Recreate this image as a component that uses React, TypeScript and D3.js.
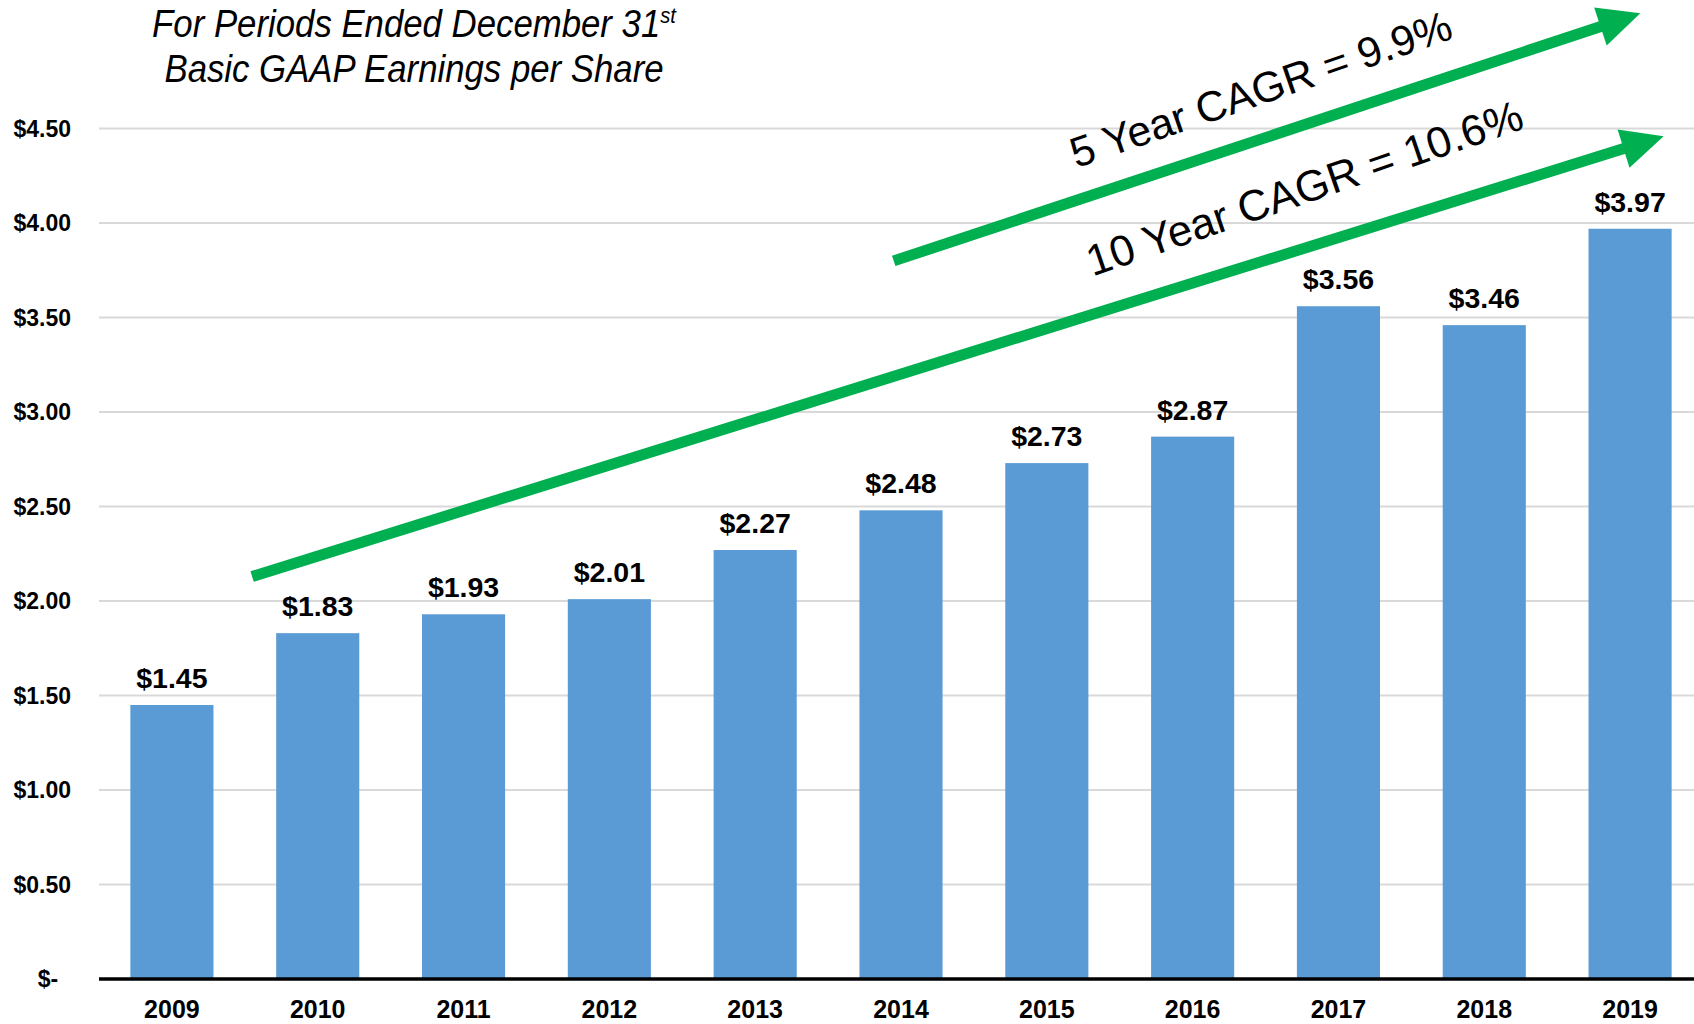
import { useEffect, useRef } from 'react'
import * as d3 from 'd3'

const years = ['2009', '2010', '2011', '2012', '2013', '2014', '2015', '2016', '2017', '2018', '2019']
const eps = [1.45, 1.83, 1.93, 2.01, 2.27, 2.48, 2.73, 2.87, 3.56, 3.46, 3.97]
const yTicks = [0, 0.5, 1, 1.5, 2, 2.5, 3, 3.5, 4, 4.5]
const titleLines = ['For Periods Ended December 31', 'Basic GAAP Earnings per Share']
const titleSup = 'st'
const cagrLabels = ['5 Year CAGR = 9.9%', '10 Year CAGR = 10.6%']

const W = 1694
const H = 1024

export default function App() {
  const ref = useRef<SVGSVGElement | null>(null)

  useEffect(() => {
    const el = ref.current
    if (!el) return
    const svg = d3.select(el)
    svg.selectAll('*').remove()

    const left = 99
    const base = 979
    const top = 128.6

    const x = d3.scaleBand().domain(years).range([left, 1703]).paddingInner(0.43).paddingOuter(0.215)
    const y = d3.scaleLinear().domain([0, 4.5]).range([base, top])
    const bw = x.bandwidth()
    // continuous index scale for annotations (bar centres)
    const xi = d3
      .scaleLinear()
      .domain([0, years.length - 1])
      .range([(x(years[0]) as number) + bw / 2, (x(years[years.length - 1]) as number) + bw / 2])

    // gridlines
    svg
      .append('g')
      .selectAll('line')
      .data(yTicks.filter((d) => d > 0))
      .join('line')
      .attr('x1', left)
      .attr('x2', W)
      .attr('y1', (d) => y(d))
      .attr('y2', (d) => y(d))
      .attr('stroke', '#d9d9d9')
      .attr('stroke-width', 2)

    // y labels
    svg
      .append('g')
      .selectAll('text')
      .data(yTicks)
      .join('text')
      .attr('x', 71)
      .attr('y', (d) => y(d))
      .attr('dy', '0.36em')
      .attr('text-anchor', 'end')
      .attr('font-family', '"Liberation Sans", Arial, sans-serif')
      .attr('font-weight', 'bold')
      .attr('font-size', 23)
      .style('white-space', 'pre')
      .text((d) => (d === 0 ? '$-  ' : `$${d.toFixed(2)}`))

    // bars
    svg
      .append('g')
      .selectAll('rect')
      .data(eps)
      .join('rect')
      .attr('x', (_, i) => x(years[i]) as number)
      .attr('y', (d) => y(d))
      .attr('width', bw)
      .attr('height', (d) => base - y(d))
      .attr('fill', '#5b9bd5')

    // value labels
    svg
      .append('g')
      .selectAll('text')
      .data(eps)
      .join('text')
      .attr('x', (_, i) => (x(years[i]) as number) + bw / 2)
      .attr('y', (d) => y(d) - 17)
      .attr('text-anchor', 'middle')
      .attr('font-family', '"Liberation Sans", Arial, sans-serif')
      .attr('font-weight', 'bold')
      .attr('font-size', 28.5)
      .text((d) => `$${d.toFixed(2)}`)

    // x axis
    svg
      .append('line')
      .attr('x1', left)
      .attr('x2', W)
      .attr('y1', base)
      .attr('y2', base)
      .attr('stroke', '#000')
      .attr('stroke-width', 3.5)

    svg
      .append('g')
      .selectAll('text')
      .data(years)
      .join('text')
      .attr('x', (d) => (x(d) as number) + bw / 2)
      .attr('y', 1018)
      .attr('text-anchor', 'middle')
      .attr('font-family', '"Liberation Sans", Arial, sans-serif')
      .attr('font-weight', 'bold')
      .attr('font-size', 25)
      .text((d) => d)

    // title (condensed italic look)
    const title = svg
      .append('g')
      .attr('transform', 'translate(414,0) scale(0.915,1)')
      .attr('font-family', '"Liberation Sans Narrow", "Arial Narrow", "Liberation Sans", sans-serif')
      .attr('font-style', 'italic')
      .attr('font-size', 38)
      .attr('text-anchor', 'middle')
    const t1 = title.append('text').attr('x', 0).attr('y', 37)
    t1.append('tspan').text(titleLines[0])
    t1.append('tspan').attr('font-size', 22).attr('dy', -14).text(titleSup)
    title.append('text').attr('x', 0).attr('y', 82).text(titleLines[1])

    // CAGR arrows
    const green = '#00b050'
    const arrows = [
      { from: [4.95, 3.8], to: [10.07, 5.11] },
      { from: [0.55, 2.13], to: [10.23, 4.46] },
    ]
    arrows.forEach((a) => {
      const x0 = xi(a.from[0])
      const y0 = y(a.from[1])
      const x1 = xi(a.to[0])
      const y1 = y(a.to[1])
      const len = Math.hypot(x1 - x0, y1 - y0)
      const ux = (x1 - x0) / len
      const uy = (y1 - y0) / len
      const hl = 42
      const hw = 20
      const bx = x1 - ux * hl
      const by = y1 - uy * hl
      svg
        .append('line')
        .attr('x1', x0)
        .attr('y1', y0)
        .attr('x2', bx + ux * 2)
        .attr('y2', by + uy * 2)
        .attr('stroke', green)
        .attr('stroke-width', 11)
      svg
        .append('path')
        .attr('d', `M${x1},${y1}L${bx - uy * hw},${by + ux * hw}L${bx + uy * hw},${by - ux * hw}Z`)
        .attr('fill', green)
    })

    const labelPos = [
      { at: [7.5, 4.635], rot: -19, size: 42.5 },
      { at: [7.8, 4.11], rot: -18.9, size: 43.5 },
    ]
    svg
      .append('g')
      .selectAll('text')
      .data(cagrLabels)
      .join('text')
      .attr(
        'transform',
        (_, i) => `translate(${xi(labelPos[i].at[0])},${y(labelPos[i].at[1])}) rotate(${labelPos[i].rot})`
      )
      .attr('text-anchor', 'middle')
      .attr('font-family', '"Liberation Sans", Arial, sans-serif')
      .attr('font-size', (_, i) => labelPos[i].size)
      .text((d) => d)
  }, [])

  return (
    <svg
      ref={ref}
      width={W}
      height={H}
      style={{ position: 'absolute', left: 0, top: 0, background: '#fff' }}
    />
  )
}
